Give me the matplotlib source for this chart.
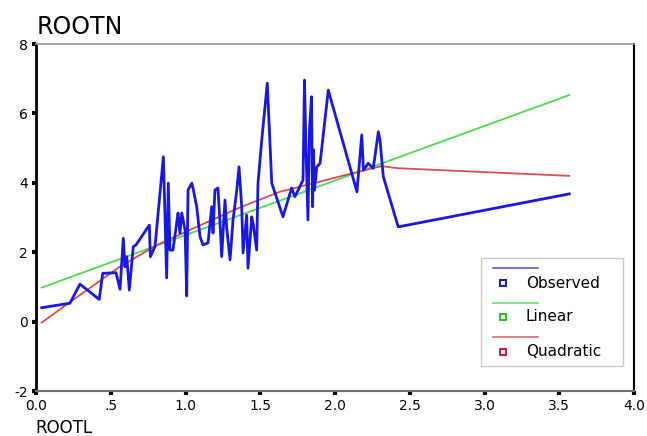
import matplotlib.pyplot as plt
import matplotlib.ticker as mticker
from matplotlib.patches import Rectangle

plt.rcParams['font.family'] = ['DejaVu Sans']
plt.rcParams['axes.unicode_minus'] = False

# observed series (ROOTL, ROOTN)
obs_x = [0.038, 0.227, 0.294, 0.423, 0.446, 0.535, 0.562, 0.584, 0.595, 0.607,
         0.624, 0.651, 0.669, 0.758, 0.765, 0.796, 0.852, 0.874, 0.885, 0.896,
         0.916, 0.941, 0.950, 0.963, 0.975, 0.997, 1.008, 1.017, 1.042, 1.050,
         1.075, 1.097, 1.117, 1.151, 1.175, 1.184, 1.197, 1.217, 1.231, 1.242,
         1.264, 1.275, 1.298, 1.318, 1.343, 1.358, 1.376, 1.385, 1.409, 1.418,
         1.443, 1.452, 1.476, 1.485, 1.510, 1.547, 1.577, 1.652, 1.710, 1.732,
         1.786, 1.796, 1.806, 1.819, 1.829, 1.843, 1.850, 1.856, 1.863, 1.878,
         1.900, 1.955, 2.147, 2.179, 2.190, 2.222, 2.256, 2.290, 2.301, 2.323,
         2.423, 3.567]
obs_y = [0.40, 0.53, 1.08, 0.64, 1.39, 1.41, 0.93, 2.40, 1.58, 1.87,
         0.91, 2.16, 2.21, 2.78, 1.87, 2.16, 4.75, 1.26, 3.99, 2.06,
         2.06, 2.84, 3.13, 2.55, 3.13, 2.64, 0.74, 3.79, 3.99, 3.85,
         3.31, 2.45, 2.21, 2.27, 3.31, 2.55, 3.79, 3.85, 2.84, 1.87,
         3.50, 2.73, 1.78, 2.93, 3.79, 4.46, 3.31, 1.98, 3.07, 1.54,
         3.02, 2.84, 2.06, 3.99, 5.23, 6.87, 3.99, 3.02, 3.85, 3.60,
         4.08, 6.96, 4.95, 2.93, 5.52, 6.48, 3.31, 4.95, 3.79, 4.46,
         4.56, 6.67, 3.74, 5.38, 4.37, 4.56, 4.42, 5.47, 5.23, 4.18,
         2.73, 3.68]

# linear fit line (end points)
lin_x = [0.038, 3.567]
lin_y = [0.98, 6.53]

# quadratic fit line
quad_x = [0.038, 0.23, 0.56, 0.81, 1.10, 1.37, 1.63, 2.03, 2.31, 2.42, 3.567]
quad_y = [-0.03, 0.57, 1.58, 2.21, 2.78, 3.30, 3.74, 4.18, 4.48, 4.42, 4.20]

series_names = ['Observed', 'Linear', 'Quadratic']
line_colors = ['#1818e0', '#4cdc4c', '#dc4c4c']
legend_line_colors = ['#5a5ad8', '#6cdc6c', '#dc6c6c']
marker_colors = ['#2020b0', '#30c030', '#d02040']

fig = plt.figure(figsize=(6.47, 4.36), dpi=100)
ax = fig.add_axes([36 / 647, 45 / 436, 598 / 647, 347 / 436])

ax.plot(lin_x, lin_y, color=line_colors[1], lw=1.3, zorder=2)
ax.plot(quad_x, quad_y, color=line_colors[2], lw=1.3, zorder=3)
ax.plot(obs_x, obs_y, color=line_colors[0], lw=2.0, zorder=4)

ax.set_xlim(0, 4)
ax.set_ylim(-2, 8)
ax.set_xticks([0, 0.5, 1, 1.5, 2, 2.5, 3, 3.5, 4])
ax.set_yticks([-2, 0, 2, 4, 6, 8])
ax.xaxis.set_major_formatter(mticker.FuncFormatter(
    lambda v, p: '0.0' if v == 0 else (f'{v:.1f}'.lstrip('0'))))
ax.tick_params(direction='out', length=3, width=3, labelsize=10, pad=3)

ax.spines['left'].set_linewidth(2)
ax.spines['left'].set_color('black')
ax.spines['right'].set_linewidth(1.5)
ax.spines['right'].set_color('black')
ax.spines['top'].set_linewidth(1.2)
ax.spines['top'].set_color('#9a9a9a')
ax.spines['bottom'].set_linewidth(1.5)
ax.spines['bottom'].set_color('#707070')

# SPSS style legend: line sample on one row, marker + label on the next
ax.add_patch(Rectangle((0.744, 0.072), 0.237, 0.310, transform=ax.transAxes,
                       facecolor='white', edgecolor='#c8c8c8', lw=1, zorder=5))
line_rows = [0.354, 0.2545, 0.155]
label_rows = [0.311, 0.214, 0.113]
for i, name in enumerate(series_names):
    ax.plot([0.764, 0.839], [line_rows[i], line_rows[i]], transform=ax.transAxes,
            color=legend_line_colors[i], lw=1.2, zorder=6)
    ax.plot([0.781], [label_rows[i]], transform=ax.transAxes, marker='s', ms=4,
            mfc='white', mec=marker_colors[i], mew=1.5, zorder=6)
    ax.text(0.819, label_rows[i], name, transform=ax.transAxes, fontsize=11,
            va='center', ha='left', zorder=6)

fig.text(37 / 647, 1 - 34 / 436, 'ROOTN', fontsize=17, ha='left', va='baseline')
fig.text(35 / 647, 1 - 433 / 436, 'ROOTL', fontsize=12, ha='left', va='baseline')

fig.savefig('out.png', dpi=100)
